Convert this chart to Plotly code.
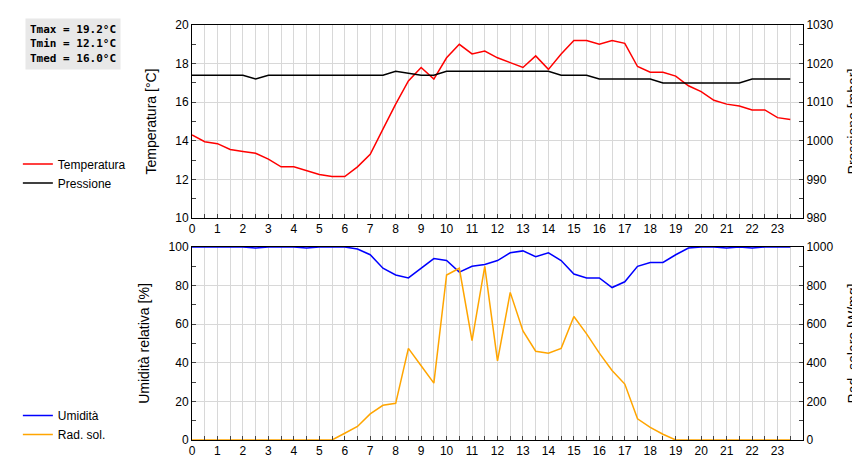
import plotly.graph_objects as go

hours = [h * 0.5 for h in range(48)]

temperatura = [14.3, 13.95, 13.85, 13.55, 13.45, 13.35, 13.05, 12.65, 12.65, 12.45,
               12.25, 12.15, 12.15, 12.65, 13.3, 14.6, 15.9, 17.1, 17.8, 17.2,
               18.3, 19.0, 18.5, 18.65, 18.3, 18.05, 17.8, 18.4, 17.7, 18.5,
               19.2, 19.2, 19.0, 19.2, 19.05, 17.85, 17.55, 17.55, 17.35, 16.85,
               16.55, 16.1, 15.9, 15.8, 15.6, 15.6, 15.2, 15.1]

pressione = [1017, 1017, 1017, 1017, 1017, 1016, 1017, 1017, 1017, 1017,
             1017, 1017, 1017, 1017, 1017, 1017, 1018, 1017.5, 1017, 1017,
             1018, 1018, 1018, 1018, 1018, 1018, 1018, 1018, 1018, 1017,
             1017, 1017, 1016, 1016, 1016, 1016, 1016, 1015, 1015, 1015,
             1015, 1015, 1015, 1015, 1016, 1016, 1016, 1016]

umidita = [100, 100, 100, 100, 100, 99.5, 100, 100, 100, 99.5,
           100, 100, 100, 99, 96, 89, 85.5, 84, 89, 94,
           93, 87, 90, 91, 93, 97, 98, 95, 97, 93,
           86, 84, 84, 79, 82, 90, 92, 92, 96, 99.5,
           100, 100, 99.5, 100, 99.5, 100, 100, 100]

rad_solare = [0, 0, 0, 0, 0, 0, 0, 0, 0, 0,
              0, 0, 35, 70, 135, 180, 190, 475, 385, 295,
              855, 890, 515, 900, 410, 765, 565, 460, 450, 475,
              640, 550, 450, 360, 290, 110, 65, 30, 0, 0,
              0, 0, 0, 0, 0, 0, 0, 0]

stats_text = "Tmax = 19.2°C<br>Tmin = 12.1°C<br>Tmed = 16.0°C"

fig = go.Figure()
fig.add_trace(go.Scatter(x=hours, y=temperatura, name="Temperatura", mode="lines",
                         line=dict(color="#ff0000", width=1.5), xaxis="x", yaxis="y"))
fig.add_trace(go.Scatter(x=hours, y=pressione, name="Pressione", mode="lines",
                         line=dict(color="#000000", width=1.5), xaxis="x", yaxis="y2"))
fig.add_trace(go.Scatter(x=hours, y=umidita, name="Umidità", mode="lines",
                         line=dict(color="#0000ff", width=1.5), xaxis="x2", yaxis="y3",
                         legend="legend2"))
fig.add_trace(go.Scatter(x=hours, y=rad_solare, name="Rad. sol.", mode="lines",
                         line=dict(color="#ffa500", width=1.5), xaxis="x2", yaxis="y4",
                         legend="legend2"))

grid = "#d8d8d8"
xcommon = dict(range=[0, 24], tickvals=list(range(24)), showgrid=False,
               minor=dict(dtick=0.5, showgrid=True, gridcolor=grid, ticks="inside", ticklen=4),
               ticks="inside", ticklen=4, showline=True, linecolor="black", mirror=True,
               zeroline=False, tickfont=dict(size=12))
ycommon = dict(showline=True, linecolor="black", ticks="inside", ticklen=4,
               gridcolor=grid, zeroline=False, tickfont=dict(size=12), title_font=dict(size=14),
               title_standoff=6)

fig.update_layout(
    width=860, height=460,
    margin=dict(l=175, r=57, t=10, b=20),
    paper_bgcolor="white", plot_bgcolor="white",
    font=dict(family="Arial, Liberation Sans", color="black"),
    xaxis=dict(xcommon, anchor="y"),
    xaxis2=dict(xcommon, anchor="y3"),
    yaxis=dict(ycommon, domain=[0.535, 1], range=[10, 20], dtick=2,
               minor=dict(dtick=1, ticks="inside", ticklen=4),
               title="Temperatura [°C]", mirror=False),
    yaxis2=dict(ycommon, domain=[0.535, 1], range=[980, 1030], dtick=10, overlaying="y",
                side="right", showgrid=False, minor=dict(dtick=5, ticks="inside", ticklen=4),
                title="Pressione [mbar]", anchor="x"),
    yaxis3=dict(ycommon, domain=[0, 0.465], range=[0, 100], dtick=20,
                minor=dict(dtick=10, ticks="inside", ticklen=4),
                title="Umidità relativa [%]", anchor="x2"),
    yaxis4=dict(ycommon, domain=[0, 0.465], range=[0, 1000], dtick=200, overlaying="y3",
                side="right", showgrid=False, minor=dict(dtick=100, ticks="inside", ticklen=4),
                title="Rad. solare [W/mq]", anchor="x2"),
    legend=dict(x=-0.285, y=0.70, xanchor="left", yanchor="top", font=dict(size=12),
                bgcolor="rgba(0,0,0,0)", tracegroupgap=0),
    legend2=dict(x=-0.285, y=0.094, xanchor="left", yanchor="top", font=dict(size=12),
                 bgcolor="rgba(0,0,0,0)"),
    annotations=[dict(text="<b>" + stats_text + "</b>", xref="paper", yref="paper",
                      x=-0.274, y=1.018, xanchor="left", yanchor="top", align="left",
                      showarrow=False, bgcolor="#e8e8e8", borderpad=4,
                      font=dict(family="DejaVu Sans Mono", size=11))],
)

fig.write_html("out.html")
